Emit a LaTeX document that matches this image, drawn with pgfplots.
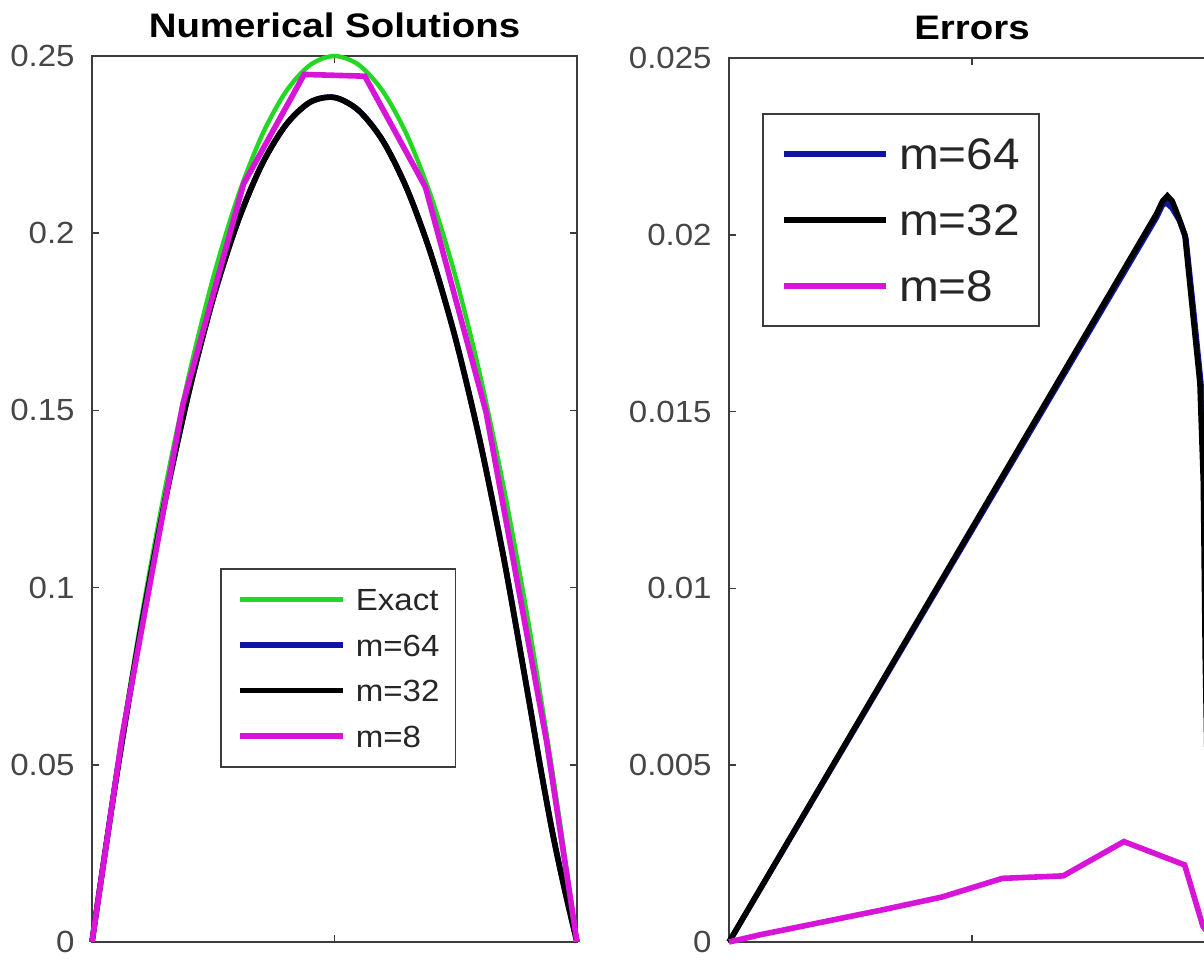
\documentclass[border=0pt]{standalone}
\usepackage{fontspec}
\setmainfont{Liberation Sans}[FakeStretch=1.08]
\newfontfamily\titlefont{Liberation Sans}[FakeStretch=1.13]
\usepackage{pgfplots}
\pgfplotsset{compat=1.18}

\definecolor{exactgreen}{RGB}{35,215,35}
\definecolor{mblue}{RGB}{15,20,165}
\definecolor{mmag}{RGB}{215,20,215}
\definecolor{axgray}{RGB}{60,60,60}
\definecolor{lblgray}{RGB}{70,70,70}

\pgfplotsset{
  matlab/.style={
    scale only axis,
    anchor=south west,
    clip=false,
    xmin=0, xmax=1,
    xtick={0,0.5,1}, xticklabels={},
    scaled y ticks=false,
    axis line style={axgray, line width=0.9pt},
    tick style={axgray, line width=0.8pt},
    major tick length=3.5pt,
    tick align=inside,
    yticklabel style={font=\fontsize{15.3}{15.3}\selectfont, text=lblgray, inner sep=0pt, xshift=-8.5pt},
    title style={font=\titlefont\bfseries\fontsize{17}{17}\selectfont, at={(0.5,1)}, anchor=base, yshift=3pt, inner sep=0pt},
    legend cell align=left,
  },
}

\begin{document}
\begin{tikzpicture}

% left panel: solutions
\begin{axis}[matlab,
  at={(46pt,8.5pt)}, width=242.5pt, height=443pt,
  ymin=0, ymax=0.25,
  ytick={0,0.05,0.1,0.15,0.2,0.25},
  yticklabels={0,0.05,0.1,0.15,0.2,0.25},
  title={Numerical Solutions},
  legend image code/.code={\draw[#1] (0pt,0pt) -- (51.7pt,0pt);},
  legend style={at={(0.2639,0.4218)}, anchor=north west, draw=axgray, line width=0.9pt,
    inner xsep=8pt, inner ysep=9.77pt, row sep=11.8pt, column sep=5pt,
    font=\fontsize{15.3}{15.3}\selectfont, text=black!85,
    nodes={inner sep=0pt, text height=10.95pt, text depth=0pt}},
]
\addplot[exactgreen, line width=2.2pt, smooth] coordinates {
  (0,0) (0.05,0.0475) (0.1,0.09) (0.15,0.1275) (0.2,0.16) (0.25,0.1875)
  (0.3,0.21) (0.35,0.2275) (0.4,0.24) (0.45,0.2475) (0.5,0.25)
  (0.55,0.2475) (0.6,0.24) (0.65,0.2275) (0.7,0.21) (0.75,0.1875)
  (0.8,0.16) (0.85,0.1275) (0.9,0.09) (0.95,0.0475) (1,0)};
\addlegendentry{Exact}
\addplot[mblue, line width=2.8pt, smooth] coordinates {
  (0,0) (0.05,0.0463) (0.1,0.0877) (0.15,0.1240) (0.2,0.1553) (0.25,0.1817)
  (0.3,0.2030) (0.35,0.2193) (0.4,0.2306) (0.45,0.2370) (0.5,0.2383)
  (0.55,0.2346) (0.6,0.2260) (0.65,0.2123) (0.7,0.1936) (0.75,0.1700)
  (0.8,0.1413) (0.85,0.1076) (0.9,0.0689) (0.925,0.0490) (0.95,0.0305)
  (0.975,0.0145) (1,0)};
\addlegendentry{m=64}
\addplot[black, line width=2.8pt, smooth] coordinates {
  (0,0) (0.05,0.0463) (0.1,0.0877) (0.15,0.1240) (0.2,0.1553) (0.25,0.1817)
  (0.3,0.2030) (0.35,0.2193) (0.4,0.2306) (0.45,0.2370) (0.5,0.2383)
  (0.55,0.2346) (0.6,0.2260) (0.65,0.2123) (0.7,0.1936) (0.75,0.1700)
  (0.8,0.1413) (0.85,0.1076) (0.9,0.0689) (0.925,0.0490) (0.95,0.0305)
  (0.975,0.0145) (1,0)};
\addlegendentry{m=32}
\addplot[mmag, line width=2.8pt] coordinates {
  (0,0) (0.0625,0.0584) (0.1875,0.1518) (0.3125,0.2139) (0.4375,0.2448)
  (0.5625,0.2443) (0.6875,0.2130) (0.8125,0.1495) (0.9375,0.0564) (1,0)};
\addlegendentry{m=8}
\end{axis}

% right panel: errors
\begin{axis}[matlab,
  at={(364.5pt,8.5pt)}, width=243pt, height=442pt,
  ymin=0, ymax=0.025,
  ytick={0,0.005,0.01,0.015,0.02,0.025},
  yticklabels={0,0.005,0.01,0.015,0.02,0.025},
  title={Errors},
  legend image code/.code={\draw[#1] (0pt,0pt) -- (50.8pt,0pt);},
  legend style={at={(0.0673,0.938)}, anchor=north west, draw=axgray, line width=0.9pt,
    inner xsep=9.5pt, inner ysep=12.1pt, row sep=17.3pt, column sep=5.2pt,
    font=\fontsize{22.1}{22.1}\selectfont, text=black!85,
    nodes={inner sep=0pt, text height=15.8pt, text depth=0pt}},
]
\addplot[mblue, line width=2.8pt] coordinates {
  (0,0) (0.88,0.0205) (0.892,0.02085) (0.901,0.0209) (0.912,0.02075)
  (0.927,0.0204) (0.94,0.0199) (0.957,0.0177) (0.971,0.0158) (0.978,0.0130)
  (0.982,0.008) (0.987,0.004) (1,0)};
\addlegendentry{m=64}
\addplot[black, line width=2.8pt] coordinates {
  (0,0) (0.88,0.0206) (0.892,0.02095) (0.902,0.0211) (0.912,0.02095)
  (0.925,0.0205) (0.938,0.0200) (0.955,0.0177) (0.969,0.0158) (0.976,0.0130)
  (0.98,0.008) (0.985,0.004) (1,0)};
\addlegendentry{m=32}
\addplot[mmag, line width=2.8pt] coordinates {
  (0,0) (0.0625,0.0002) (0.1875,0.00055) (0.3125,0.0009) (0.4375,0.00127)
  (0.5625,0.0018) (0.6875,0.00187) (0.8125,0.00284) (0.9375,0.00218)
  (0.975,0.00045) (1,0)};
\addlegendentry{m=8}
\end{axis}

\pgfresetboundingbox
\path[use as bounding box] (0,0) rectangle (602pt,479.5pt);
\end{tikzpicture}
\end{document}
